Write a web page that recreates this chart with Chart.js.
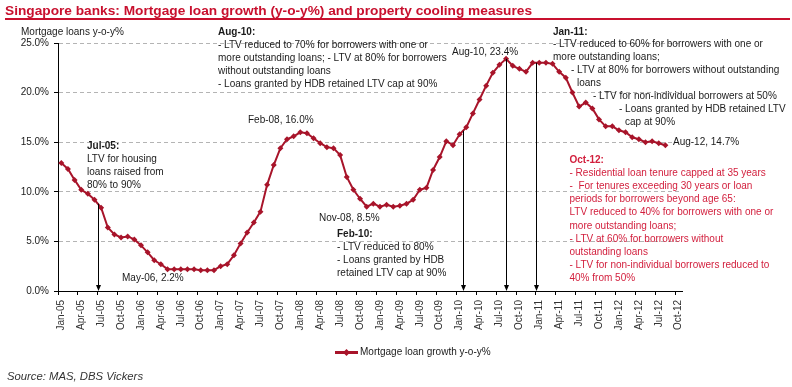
<!DOCTYPE html>
<html>
<head>
<meta charset="utf-8">
<script src="https://cdn.jsdelivr.net/npm/chart.js@4.4.0/dist/chart.umd.min.js"></script>
<style>
  html, body { margin: 0; padding: 0; background: #fff; }
  canvas { display: block; }
</style>
</head>
<body>
<canvas id="canvas" width="792" height="387"></canvas>
<script>
// categories: one per month, Jan-05 .. Oct-12
const MONTHS = [
  "Jan-05","Feb-05","Mar-05","Apr-05","May-05","Jun-05","Jul-05","Aug-05","Sep-05","Oct-05","Nov-05","Dec-05",
  "Jan-06","Feb-06","Mar-06","Apr-06","May-06","Jun-06","Jul-06","Aug-06","Sep-06","Oct-06","Nov-06","Dec-06",
  "Jan-07","Feb-07","Mar-07","Apr-07","May-07","Jun-07","Jul-07","Aug-07","Sep-07","Oct-07","Nov-07","Dec-07",
  "Jan-08","Feb-08","Mar-08","Apr-08","May-08","Jun-08","Jul-08","Aug-08","Sep-08","Oct-08","Nov-08","Dec-08",
  "Jan-09","Feb-09","Mar-09","Apr-09","May-09","Jun-09","Jul-09","Aug-09","Sep-09","Oct-09","Nov-09","Dec-09",
  "Jan-10","Feb-10","Mar-10","Apr-10","May-10","Jun-10","Jul-10","Aug-10","Sep-10","Oct-10","Nov-10","Dec-10",
  "Jan-11","Feb-11","Mar-11","Apr-11","May-11","Jun-11","Jul-11","Aug-11","Sep-11","Oct-11","Nov-11","Dec-11",
  "Jan-12","Feb-12","Mar-12","Apr-12","May-12","Jun-12","Jul-12","Aug-12","Sep-12","Oct-12"
];

// mortgage loan growth y-o-y %, Jan-05 .. Aug-12
const GROWTH = [
  12.9, 12.3, 11.2, 10.2, 9.8, 9.2, 8.4, 6.4, 5.7, 5.4, 5.5, 5.2,
  4.6, 3.9, 3.1, 2.7, 2.2, 2.2, 2.2, 2.2, 2.2, 2.1, 2.1, 2.1,
  2.5, 2.7, 3.6, 4.8, 5.9, 6.9, 8.0, 10.7, 12.7, 14.4, 15.3, 15.6,
  16.0, 15.9, 15.4, 14.9, 14.5, 14.4, 13.7, 11.5, 10.2, 9.3, 8.5, 8.8,
  8.5, 8.7, 8.5, 8.6, 8.8, 9.2, 10.2, 10.4, 12.2, 13.5, 15.1, 14.7,
  15.8, 16.5, 17.9, 19.3, 20.7, 22.0, 22.8, 23.4, 22.7, 22.4, 22.1, 23.0,
  23.0, 23.0, 22.9, 22.1, 21.5, 20.0, 18.6, 19.0, 18.4, 17.3, 16.6, 16.6,
  16.2, 16.0, 15.5, 15.3, 15.0, 15.1, 14.9, 14.7
];

const Y_TICKS = [0, 5, 10, 15, 20, 25];
const SERIES_NAME = "Mortgage loan growth y-o-y%";

// vertical arrows marking the cooling measures
const ARROWS = [
  { month: "Jul-05", atTick: true },
  { month: "Feb-10", atTick: true },
  { month: "Aug-10", atTick: false },
  { month: "Jan-11", atTick: true }
];

const RED = "#c8102e";
const LINE_RED = "#a8142a";
const NOTE_RED = "#d21e3c";
const FONT = "'Liberation Sans', Arial, sans-serif";

// text blocks, first line is the bold heading
const NOTES = [
  { x: 218, y: 32, color: "#1a1a1a", lines: [
    "Aug-10:",
    "- LTV reduced to 70% for borrowers with one or",
    "more outstanding loans; - LTV at 80% for borrowers",
    "without outstanding loans",
    "- Loans granted by HDB retained LTV cap at 90%"] },
  { x: 87, y: 146, color: "#1a1a1a", lines: [
    "Jul-05:", "LTV for housing", "loans raised from", "80% to 90%"] },
  { x: 337, y: 234.5, color: "#1a1a1a", lines: [
    "Feb-10:", "- LTV reduced to 80%", "- Loans granted by HDB", "retained LTV cap at 90%"] },
  { x: 569.5, y: 160.5, color: NOTE_RED, lines: [
    "Oct-12:",
    "- Residential loan tenure capped at 35 years",
    "-  For tenures exceeding 30 years or loan",
    "periods for borrowers beyond age 65:",
    "LTV reduced to 40% for borrowers with one or",
    "more outstanding loans;",
    "- LTV at 60% for borrowers without",
    "outstanding loans",
    "- LTV for non-individual borrowers reduced to",
    "40% from 50%"] }
];

// Jan-11 block is staggered, so each line has its own x
const JAN11 = [
  [553, 32, "Jan-11:", true],
  [553, 44.5, "- LTV reduced to 60% for borrowers with one or", false],
  [553, 57.5, "more outstanding loans;", false],
  [571, 70.5, "- LTV at 80% for borrowers without outstanding", false],
  [577, 83, "loans", false],
  [593, 96, "- LTV for non-individual borrowers at 50%", false],
  [619, 109, "- Loans granted by HDB retained LTV", false],
  [625, 122, "cap at 90%", false]
];

const POINT_LABELS = [
  [452, 52, "Aug-10, 23.4%"],
  [248, 120, "Feb-08, 16.0%"],
  [122, 278, "May-06, 2.2%"],
  [319, 218, "Nov-08, 8.5%"],
  [673, 142, "Aug-12, 14.7%"]
];

const decor = {
  id: "decor",
  afterDatasetsDraw(chart) {
    const ctx = chart.ctx;
    const xs = chart.scales.x, ys = chart.scales.y;
    const step = xs.getPixelForValue(1) - xs.getPixelForValue(0);
    const yBot = ys.getPixelForValue(0);

    ctx.save();
    // arrows down to the axis
    ctx.strokeStyle = "#000";
    ctx.fillStyle = "#000";
    ctx.lineWidth = 1;
    ARROWS.forEach(a => {
      const i = MONTHS.indexOf(a.month);
      const x = Math.round(xs.getPixelForValue(i) - (a.atTick ? step / 2 : 0)) + 0.5;
      const v = a.atTick ? (GROWTH[i - 1] + GROWTH[i]) / 2 : GROWTH[i];
      const yTop = ys.getPixelForValue(v);
      ctx.beginPath();
      ctx.moveTo(x, yTop);
      ctx.lineTo(x, yBot - 4);
      ctx.stroke();
      ctx.beginPath();
      ctx.moveTo(x - 2.5, yBot - 6);
      ctx.lineTo(x + 2.5, yBot - 6);
      ctx.lineTo(x, yBot);
      ctx.closePath();
      ctx.fill();
    });

    ctx.textBaseline = "middle";
    ctx.textAlign = "left";

    NOTES.forEach(n => {
      ctx.fillStyle = n.color;
      n.lines.forEach((line, k) => {
        ctx.font = (k === 0 ? "bold " : "") + "10px " + FONT;
        ctx.fillText(line, n.x, n.y + k * 13.05);
      });
    });

    ctx.fillStyle = "#1a1a1a";
    JAN11.forEach(([x, y, t, b]) => {
      ctx.font = (b ? "bold " : "") + "10px " + FONT;
      ctx.fillText(t, x, y);
    });

    ctx.font = "10px " + FONT;
    POINT_LABELS.forEach(([x, y, t]) => ctx.fillText(t, x, y));
    ctx.restore();
  },
  afterDraw(chart) {
    const ctx = chart.ctx;
    ctx.save();
    // title and red rule
    ctx.fillStyle = RED;
    ctx.font = "bold 13.7px " + FONT;
    ctx.textBaseline = "alphabetic";
    ctx.fillText("Singapore banks: Mortgage loan growth (y-o-y%) and property cooling measures", 5, 15);
    ctx.fillRect(5, 18, 785, 2);

    ctx.textBaseline = "middle";
    ctx.fillStyle = "#1a1a1a";
    ctx.font = "10px " + FONT;
    ctx.fillText("Mortgage loans y-o-y%", 21, 32);

    // legend
    const ds = chart.data.datasets[0];
    ctx.strokeStyle = ds.borderColor;
    ctx.lineWidth = 3;
    ctx.beginPath();
    ctx.moveTo(335, 352.5);
    ctx.lineTo(358, 352.5);
    ctx.stroke();
    ctx.fillStyle = ds.borderColor;
    ctx.beginPath();
    ctx.moveTo(346.5, 349);
    ctx.lineTo(350, 352.5);
    ctx.lineTo(346.5, 356);
    ctx.lineTo(343, 352.5);
    ctx.closePath();
    ctx.fill();
    ctx.fillStyle = "#1a1a1a";
    ctx.fillText(ds.label, 360, 352.5);

    ctx.fillStyle = "#333";
    ctx.font = "italic 11.3px " + FONT;
    ctx.fillText("Source: MAS, DBS Vickers", 7, 377);
    ctx.restore();
  }
};

Chart.defaults.font.family = FONT;
Chart.defaults.font.size = 10;
Chart.defaults.color = "#1a1a1a";

new Chart(document.getElementById("canvas").getContext("2d"), {
  type: "line",
  data: {
    labels: MONTHS,
    datasets: [{
      label: SERIES_NAME,
      data: GROWTH,
      borderColor: LINE_RED,
      backgroundColor: LINE_RED,
      borderWidth: 2,
      pointStyle: "rectRot",
      pointRadius: 3,
      pointBorderWidth: 0,
      pointBackgroundColor: LINE_RED,
      tension: 0,
      fill: false
    }]
  },
  options: {
    responsive: false,
    animation: false,
    devicePixelRatio: 1,
    layout: { padding: { left: 0, right: 110, top: 43, bottom: 56 } },
    plugins: {
      legend: { display: false },
      tooltip: { enabled: false }
    },
    scales: {
      x: {
        type: "category",
        offset: true,
        afterFit: s => { s.height = 40; },
        grid: {
          offset: true,
          drawOnChartArea: false,
          drawTicks: true,
          tickLength: 4,
          tickColor: c => (c.index % 3 === 0 ? "#000" : "rgba(0,0,0,0)")
        },
        border: { display: true, color: "#000", width: 1 },
        ticks: {
          autoSkip: false,
          maxRotation: 90,
          minRotation: 90,
          padding: 5,
          color: "#333",
          callback: (v, i) => (i % 3 === 0 ? MONTHS[i] : "")
        }
      },
      y: {
        min: 0,
        max: 25,
        afterFit: s => { s.width = 58; },
        afterBuildTicks: s => { s.ticks = Y_TICKS.map(v => ({ value: v })); },
        grid: {
          color: "#b4b4b4",
          drawTicks: true,
          tickLength: 4,
          tickColor: "#000"
        },
        border: { display: true, color: "#000", width: 1, dash: [4, 3] },
        ticks: {
          padding: 5,
          color: "#1a1a1a",
          callback: v => v.toFixed(1) + "%"
        }
      }
    }
  },
  plugins: [decor]
});
</script>
</body>
</html>
